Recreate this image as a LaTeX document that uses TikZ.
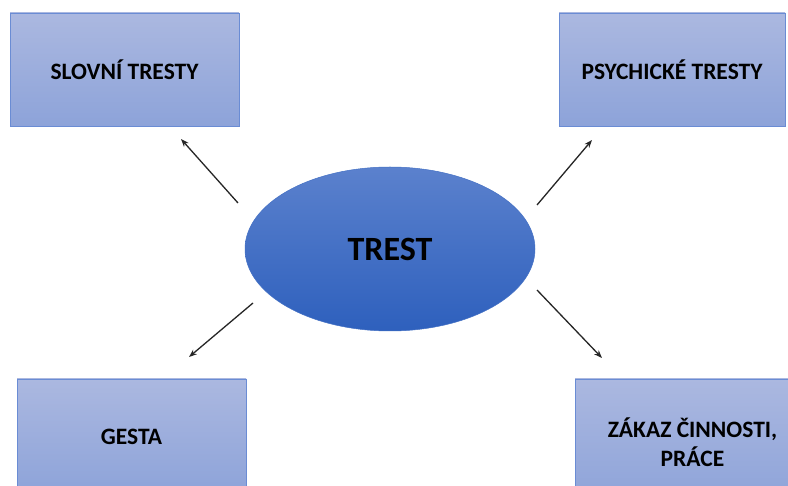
\documentclass[tikz,border=0pt]{standalone}
\usepackage{fontspec}
\setmainfont{Carlito}
\usetikzlibrary{shapes.geometric,arrows.meta}
\definecolor{boxtop}{HTML}{ABB8E0}
\definecolor{boxbot}{HTML}{8DA3D9}
\definecolor{boxline}{HTML}{6A8CD4}
\definecolor{elltop}{HTML}{5B81CD}
\definecolor{ellbot}{HTML}{2E60BD}
\tikzset{
  box/.style={rectangle, draw=boxline, line width=0.8pt, top color=boxtop, bottom color=boxbot,
    font=\bfseries\fontsize{23.5}{29}\selectfont, text=black, align=center, inner sep=0pt},
  ell/.style={ellipse, top color=elltop, bottom color=ellbot, draw=ellbot!90!white, line width=0.5pt,
    minimum width=290pt, minimum height=164pt, inner sep=0pt, font=\bfseries\fontsize{34}{40}\selectfont},
  conn/.style={-{Stealth[length=8pt,width=6pt]}, line width=1.3pt, draw=black!85}
}
\begin{document}
\begin{tikzpicture}[x=1pt,y=-1pt]
\useasboundingbox[fill=white] (0,0) rectangle (788,486);
\node[ell] (t) at (390,249) {TREST};
\node[box, minimum width=229pt, minimum height=113pt] (s) at (124.5,69.5) {SLOVNÍ TRESTY};
\node[box, minimum width=226pt, minimum height=113pt] (p) at (672,69.5) {PSYCHICKÉ TRESTY};
\node[box, minimum width=229pt, minimum height=116pt] (g) at (131.5,437) {GESTA};
\node[box, minimum width=235pt, minimum height=126pt] (z) at (692.5,442) {ZÁKAZ ČINNOSTI,\\PRÁCE};
\coordinate (a1s) at (238,203); \coordinate (a1e) at (181,139);
\coordinate (a2s) at (537,205); \coordinate (a2e) at (592,140);
\coordinate (a3s) at (253,303); \coordinate (a3e) at (189,357);
\coordinate (a4s) at (537,290); \coordinate (a4e) at (602,358);
\draw[conn] (a1s) -- (a1e);
\draw[conn] (a2s) -- (a2e);
\draw[conn] (a3s) -- (a3e);
\draw[conn] (a4s) -- (a4e);
\end{tikzpicture}
\end{document}
